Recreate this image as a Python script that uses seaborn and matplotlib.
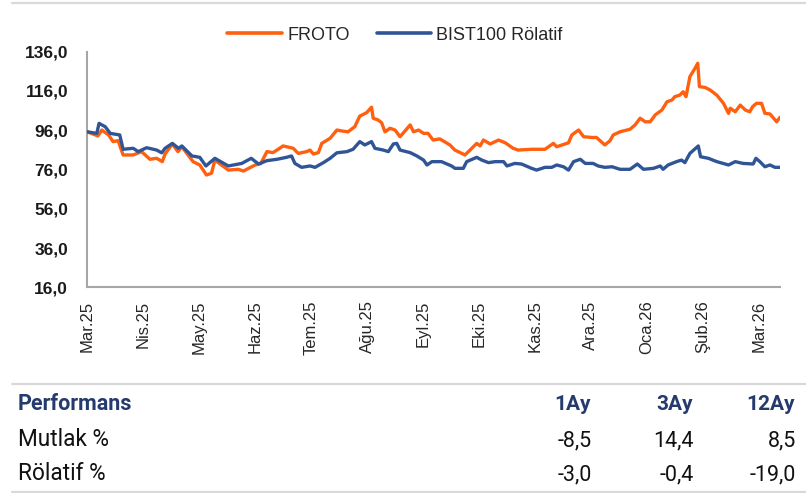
import matplotlib
matplotlib.use("Agg")
import matplotlib.pyplot as plt
import seaborn as sns
import pandas as pd
from matplotlib.lines import Line2D

# ---------------- data ----------------
month_labels = ["Mar.25", "Nis.25", "May.25", "Haz.25", "Tem.25", "Ağu.25", "Eyl.25",
                "Eki.25", "Kas.25", "Ara.25", "Oca.26", "Şub.26", "Mar.26"]

# x = months elapsed since start of Mar.25
froto_t = [0.00, 0.19, 0.26, 0.38, 0.46, 0.55, 0.64, 0.82, 0.97, 1.12, 1.24, 1.34, 1.39, 1.52,
           1.62, 1.69, 1.89, 2.01, 2.13, 2.22, 2.28, 2.52, 2.70, 2.79, 3.00, 3.10, 3.21, 3.32,
           3.50, 3.68, 3.77, 3.92, 3.98, 4.04, 4.13, 4.19, 4.34, 4.46, 4.55, 4.66, 4.78, 4.87,
           4.99, 5.08, 5.11, 5.20, 5.26, 5.32, 5.41, 5.50, 5.59, 5.77, 5.83, 5.92, 6.01, 6.09,
           6.18, 6.30, 6.48, 6.57, 6.75, 6.84, 6.96, 7.02, 7.08, 7.20, 7.35, 7.47, 7.61, 7.70,
           7.94, 8.18, 8.33, 8.39, 8.60, 8.66, 8.78, 8.87, 9.02, 9.10, 9.25, 9.34, 9.40, 9.52,
           9.70, 9.79, 9.88, 9.97, 10.06, 10.15, 10.27, 10.36, 10.45, 10.50, 10.59, 10.65,
           10.70, 10.77, 10.86, 10.91, 10.94, 11.04, 11.13, 11.25, 11.37, 11.46, 11.49, 11.58,
           11.67, 11.76, 11.84, 11.89, 11.96, 12.05, 12.11, 12.20, 12.32, 12.38]
froto_v = [95.2, 93.1, 96.1, 93.6, 90.2, 90.7, 83.4, 83.4, 85.1, 81.2, 81.7, 80.0, 83.9, 89.0,
           85.1, 87.6, 80.0, 78.3, 73.2, 74.1, 80.8, 75.7, 76.1, 75.2, 78.3, 79.0, 85.1, 84.6,
           88.0, 86.8, 84.2, 85.1, 85.9, 83.9, 84.6, 89.3, 91.9, 96.1, 95.6, 95.2, 97.8, 103.2,
           104.9, 107.7, 102.1, 101.2, 99.8, 95.2, 97.0, 96.1, 92.7, 98.7, 95.2, 96.1, 94.4, 94.4,
           91.0, 91.6, 88.5, 85.9, 83.4, 85.9, 89.3, 88.0, 91.0, 89.0, 91.0, 89.6, 86.8, 85.9,
           86.3, 86.3, 89.3, 87.6, 89.6, 93.6, 96.1, 92.7, 92.3, 92.3, 88.5, 90.6, 93.6, 95.2,
           96.5, 98.7, 102.1, 100.3, 100.3, 103.8, 106.3, 110.5, 111.4, 113.1, 113.9, 115.6,
           113.1, 123.3, 127.5, 130.1, 118.2, 117.8, 116.5, 113.9, 109.7, 104.6, 107.2, 105.4,
           108.8, 106.3, 105.4, 108.0, 109.7, 109.7, 104.6, 104.3, 100.3, 102.6]

bist_t = [0.00, 0.17, 0.21, 0.32, 0.41, 0.58, 0.64, 0.82, 0.91, 1.06, 1.24, 1.33, 1.39, 1.52,
          1.63, 1.69, 1.87, 2.01, 2.12, 2.28, 2.52, 2.76, 2.93, 3.06, 3.21, 3.39, 3.56, 3.65,
          3.71, 3.83, 3.98, 4.07, 4.22, 4.34, 4.46, 4.64, 4.75, 4.87, 4.96, 5.08, 5.14, 5.29,
          5.38, 5.47, 5.53, 5.59, 5.77, 5.89, 6.01, 6.07, 6.16, 6.33, 6.51, 6.57, 6.72, 6.78,
          6.96, 7.05, 7.17, 7.29, 7.44, 7.50, 7.64, 7.76, 7.94, 8.03, 8.18, 8.30, 8.39, 8.51,
          8.60, 8.69, 8.81, 8.90, 9.04, 9.13, 9.25, 9.38, 9.52, 9.70, 9.83, 9.94, 10.12, 10.24,
          10.29, 10.38, 10.53, 10.62, 10.68, 10.77, 10.92, 10.96, 11.10, 11.25, 11.40, 11.46,
          11.58, 11.72, 11.90, 11.95, 12.02, 12.11, 12.20, 12.29, 12.38]
bist_v = [95.2, 94.4, 99.5, 97.8, 94.4, 93.6, 86.3, 86.8, 85.1, 87.1, 85.9, 84.5, 86.8, 89.3,
          86.8, 88.0, 82.9, 82.2, 77.8, 81.7, 77.8, 79.1, 81.7, 78.8, 80.5, 81.2, 82.2, 82.9,
          79.1, 77.1, 77.8, 77.1, 79.5, 81.7, 84.5, 85.1, 86.3, 90.2, 88.5, 90.2, 86.8, 85.9,
          85.1, 89.0, 89.3, 85.9, 84.6, 82.9, 80.8, 78.3, 80.0, 80.0, 77.8, 76.6, 76.6, 80.0,
          82.2, 80.8, 79.5, 80.0, 80.0, 77.8, 79.1, 78.8, 76.6, 75.7, 77.1, 77.1, 78.3, 77.4,
          75.7, 80.0, 81.2, 79.1, 79.1, 77.8, 77.1, 77.4, 76.1, 76.1, 78.8, 76.1, 76.6, 77.8,
          76.1, 78.3, 80.0, 80.8, 79.5, 84.2, 88.0, 82.5, 81.7, 80.0, 78.8, 78.3,
          80.0, 79.1, 78.8, 81.7, 80.0, 77.4, 78.3, 77.1, 77.1]

y_ticks = [16, 36, 56, 76, 96, 116, 136]
y_tick_labels = ["16,0", "36,0", "56,0", "76,0", "96,0", "116,0", "136,0"]

series_names = ["FROTO", "BIST100 Rölatif"]
perf_columns = ["1Ay", "3Ay", "12Ay"]
perf_rows = ["Mutlak %", "Rölatif %"]
perf_mutlak = ["-8,5", "14,4", "8,5"]
perf_rolatif = ["-3,0", "-0,4", "-19,0"]

# ---------------- style ----------------
ORANGE = "#FF5F0F"
BLUE = "#2F5597"
NAVY = "#253B6E"
SPINE = "#A6A6A6"
RULE = "#D9D9D9"
ARIAL = ["Liberation Sans", "DejaVu Sans"]

sns.set_style("white")
plt.rcParams["font.family"] = ["Roboto", "DejaVu Sans"]

W, H = 806, 493
fig = plt.figure(figsize=(W / 100, H / 100), dpi=100)

def fx(px):
    return px / W

def fy(py):
    return 1 - py / H

ax = fig.add_axes([fx(87.3), fy(287.3), fx(780) - fx(87.3), fy(51.7) - fy(287.3)])

df_f = pd.DataFrame({"t": froto_t, "v": froto_v})
df_b = pd.DataFrame({"t": bist_t, "v": bist_v})
sns.lineplot(data=df_f, x="t", y="v", ax=ax, color=ORANGE, linewidth=2.4, zorder=3)
sns.lineplot(data=df_b, x="t", y="v", ax=ax, color=BLUE, linewidth=2.4, zorder=4)

ax.set_xlim(0, 12.38)
ax.set_ylim(16, 136)
ax.set_yticks(y_ticks)
ax.set_yticklabels(y_tick_labels, fontsize=12.5, fontweight="bold", color="#1A1A1A",
                   family=ARIAL)
ax.set_xticks(list(range(len(month_labels))))
ax.set_xticklabels(month_labels, rotation=90, fontsize=12, color="#262626", family=ARIAL)
ax.set_xlabel("")
ax.set_ylabel("")
for s in ["top", "right"]:
    ax.spines[s].set_visible(False)
for s in ["left", "bottom"]:
    ax.spines[s].set_color(SPINE)
    ax.spines[s].set_linewidth(1.5)
ax.tick_params(axis="y", direction="out", length=4.8, width=1.5, color=SPINE, pad=9)
ax.tick_params(axis="x", direction="out", length=4.5, width=1.5, color=SPINE, pad=5)
ax.grid(False)

# legend
handles = [Line2D([], [], color=ORANGE, linewidth=2.6),
           Line2D([], [], color=BLUE, linewidth=2.6)]
fig.legend(handles, series_names, loc="center", bbox_to_anchor=(fx(395), fy(35)),
           ncol=2, frameon=False, prop={"family": ARIAL, "size": 13},
           handlelength=3.0, handletextpad=0.3,
           columnspacing=1.5, borderaxespad=0, borderpad=0)

# rules
fig.add_artist(Line2D([fx(12), 1.0], [fy(2.7), fy(2.7)], color=RULE, linewidth=1.6))
fig.add_artist(Line2D([fx(12), 1.0], [fy(384.3), fy(384.3)], color=RULE, linewidth=1.6))
fig.add_artist(Line2D([fx(12), 1.0], [fy(491.5), fy(491.5)], color=RULE, linewidth=1.6))

# performance table
col_right = [590.5, 692.5, 794.5]
fig.text(fx(18), fy(410), "Performans", fontsize=15.5, fontweight="bold", color=NAVY,
         ha="left", va="baseline")
for xr, name in zip(col_right, perf_columns):
    fig.text(fx(xr), fy(410), name, fontsize=15, fontweight="bold", color=NAVY,
             ha="right", va="baseline")
for row_y, label, vals in zip([446, 480.5], perf_rows, [perf_mutlak, perf_rolatif]):
    fig.text(fx(18), fy(row_y), label, fontsize=16.3, color="#111111",
             ha="left", va="baseline")
    for xr, val in zip(col_right, vals):
        fig.text(fx(xr + 1.5), fy(row_y), val, fontsize=15.5, color="#111111",
                 ha="right", va="baseline")

fig.savefig("out.png", dpi=100)
